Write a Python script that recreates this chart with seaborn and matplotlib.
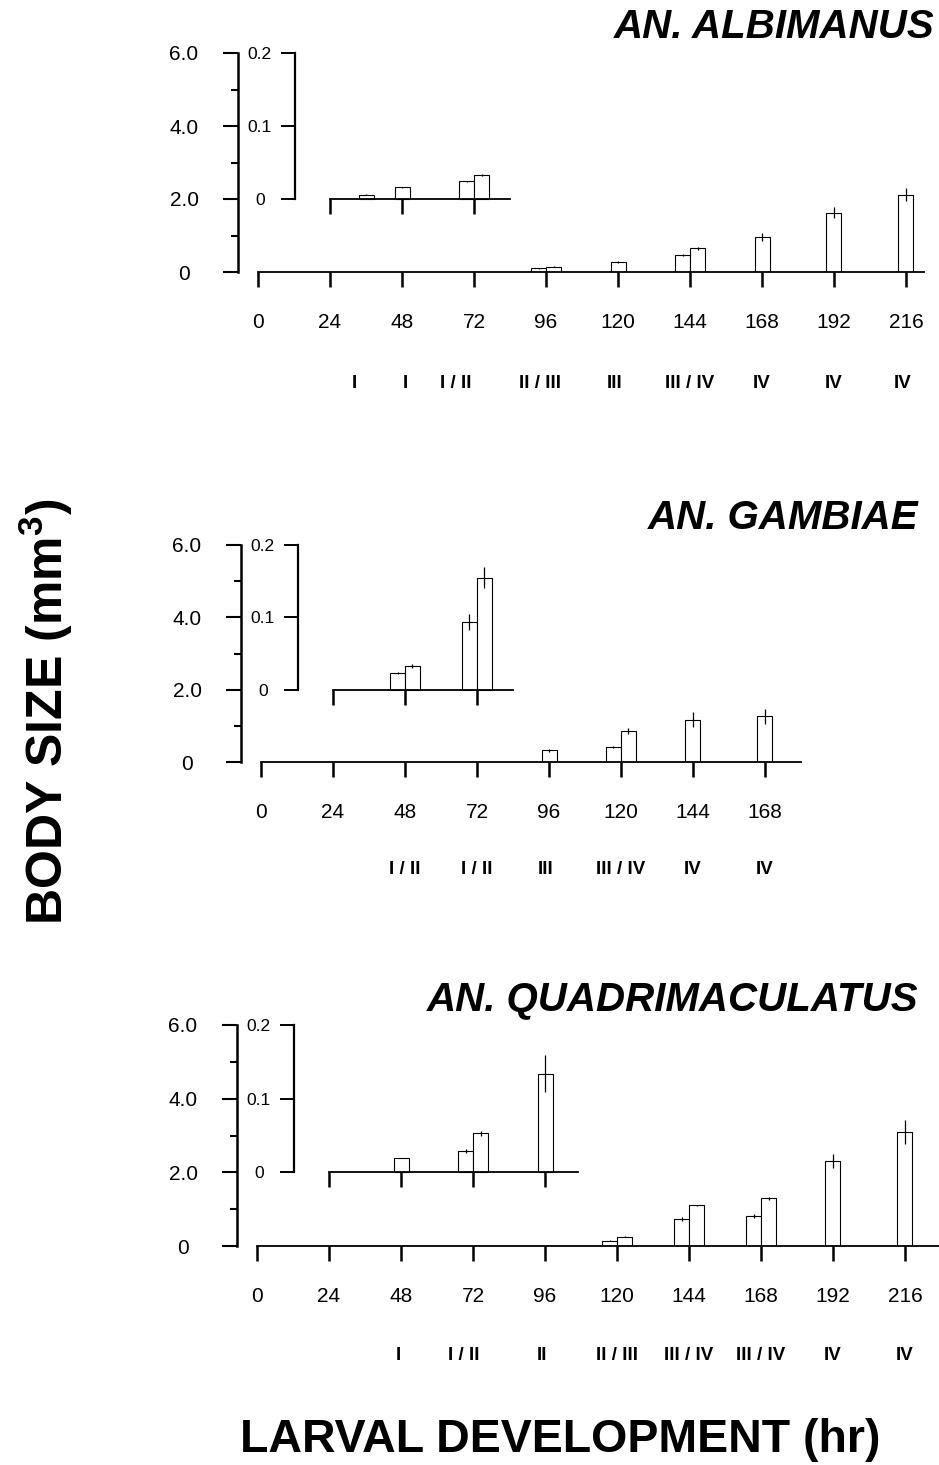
import matplotlib
matplotlib.use("Agg")
import matplotlib.pyplot as plt
import seaborn as sns
import numpy as np
import pandas as pd

sns.set_theme(style="white")
plt.rcParams["font.family"] = ["Liberation Sans", "DejaVu Sans"]
plt.rcParams["mathtext.fontset"] = "custom"
plt.rcParams["mathtext.rm"] = "Liberation Sans:bold"
plt.rcParams["mathtext.bf"] = "Liberation Sans:bold"

# --- data (body size, mm3) ---
# side: L / R = two bars of a mixed-instar sample, S = single bar
alb_time = [36, 48, 72, 72, 96, 96, 120, 144, 144, 168, 192, 216]
alb_side = ["S", "S", "L", "R", "L", "R", "S", "L", "R", "S", "S", "S"]
alb_size = [0.006, 0.016, 0.024, 0.033, 0.10, 0.15, 0.27, 0.47, 0.65, 0.96, 1.62, 2.12]
alb_err = [0.0005, 0.001, 0.001, 0.0015, 0.01, 0.01, 0.03, 0.03, 0.04, 0.10, 0.15, 0.17]
alb_stage = ["I", "I", "I / II", "II / III", "III", "III / IV", "IV", "IV", "IV"]
alb_stage_time = [36, 48, 72, 96, 120, 144, 168, 192, 216]

gam_time = [48, 48, 72, 72, 96, 120, 120, 144, 168]
gam_side = ["L", "R", "L", "R", "S", "L", "R", "S", "S"]
gam_size = [0.023, 0.033, 0.094, 0.155, 0.33, 0.42, 0.86, 1.17, 1.26]
gam_err = [0.002, 0.003, 0.011, 0.015, 0.04, 0.03, 0.09, 0.20, 0.20]
gam_stage = ["I / II", "I / II", "III", "III / IV", "IV", "IV"]
gam_stage_time = [48, 72, 96, 120, 144, 168]

qua_time = [48, 72, 72, 96, 120, 120, 144, 144, 168, 168, 192, 216]
qua_side = ["S", "L", "R", "S", "L", "R", "L", "R", "L", "R", "S", "S"]
qua_size = [0.020, 0.029, 0.053, 0.134, 0.14, 0.25, 0.74, 1.10, 0.82, 1.30, 2.31, 3.10]
qua_err = [0.0, 0.003, 0.003, 0.025, 0.01, 0.01, 0.05, 0.02, 0.05, 0.04, 0.18, 0.33]
qua_stage = ["I", "I / II", "II", "II / III", "III / IV", "III / IV", "IV", "IV"]
qua_stage_time = [48, 72, 96, 120, 144, 168, 192, 216]

# --- layout (pixels of the 939x1465 figure) ---
W, H = 939, 1465
shift = {"L": -2.5, "S": 0.0, "R": 2.5}

panels = [
    dict(title="AN. ALBIMANUS", time=alb_time, side=alb_side, size=alb_size, err=alb_err,
         stage=alb_stage, stage_time=alb_stage_time, stage_nudge=[-4, 1, -6, -2, -1, 0, 0, 0, -1],
         inset_end=72, tick_end=216, axis_end=222, inset_axis_end=84,
         x0=258, y6=53, y0=272, title_xy=(935, 27), stage_y=383),
    dict(title="AN. GAMBIAE", time=gam_time, side=gam_side, size=gam_size, err=gam_err,
         stage=gam_stage, stage_time=gam_stage_time, stage_nudge=[0, 0, -1, 0, 0, 0],
         inset_end=72, tick_end=168, axis_end=180, inset_axis_end=84,
         x0=261, y6=545, y0=762, title_xy=(918, 518), stage_y=870),
    dict(title="AN. QUADRIMACULATUS", time=qua_time, side=qua_side, size=qua_size, err=qua_err,
         stage=qua_stage, stage_time=qua_stage_time, stage_nudge=[-1, -3, -1, 0, 0, 0, 0, 0],
         inset_end=96, tick_end=216, axis_end=230, inset_axis_end=107,
         x0=257, y6=1025, y0=1246, title_xy=(918, 1000), stage_y=1355),
]

fig = plt.figure(figsize=(W / 100, H / 100), dpi=100)
fig.patch.set_facecolor("white")

for p in panels:
    df = pd.DataFrame({"time": p["time"], "side": p["side"], "size": p["size"], "err": p["err"]})
    df["pos"] = df["time"] + df["side"].map(shift)

    rect = [(p["x0"] - 30) / W, 1 - p["y0"] / H, 711 / W, (p["y0"] - p["y6"]) / H]
    ax = fig.add_axes(rect)
    axi = fig.add_axes(rect)
    axi.patch.set_alpha(0)

    late = df[df["time"] > p["inset_end"]]
    early = df[df["time"] <= p["inset_end"]]
    for a, d in ((ax, late), (axi, early)):
        sns.barplot(data=d, x="pos", y="size", native_scale=True, orient="x", width=1.0,
                    color="white", saturation=1, edgecolor="black", linewidth=0.8,
                    errorbar=None, ax=a)
        a.errorbar(d["pos"], d["size"], yerr=d["err"], fmt="none", ecolor="black",
                   elinewidth=0.9, capsize=0)
        a.set_xlim(-10, 227)
        a.set_xlabel("")
        a.set_ylabel("")
        a.spines["top"].set_visible(False)
        a.spines["right"].set_visible(False)
        for s in ("left", "bottom"):
            a.spines[s].set_color("black")

    # main axis 0 - 6 mm3
    ax.set_ylim(0, 6)
    ax.spines["left"].set_position(("data", -6.7))
    ax.spines["left"].set_bounds(0, 6)
    ax.spines["left"].set_linewidth(1.8)
    ax.spines["bottom"].set_bounds(0, p["axis_end"])
    ax.spines["bottom"].set_linewidth(1.3)
    ax.set_yticks([0, 2, 4, 6], labels=["0", "2.0", "4.0", "6.0"])
    ax.set_yticks([1, 3, 5], minor=True)
    ax.tick_params(axis="y", which="major", direction="out", length=10.8, width=1.5,
                   pad=28, labelsize=15, colors="black", left=True)
    ax.tick_params(axis="y", which="minor", direction="out", length=5, width=1.5,
                   colors="black", left=True)
    for t in ax.get_yticklabels():
        t.set_horizontalalignment("center")
    xt = list(range(0, p["tick_end"] + 1, 24))
    ax.set_xticks(xt, labels=[str(v) for v in xt])
    ax.tick_params(axis="x", which="major", direction="out", length=10.8, width=1.8,
                   pad=19, labelsize=15, colors="black", bottom=True)

    # inset axis 0 - 0.2 mm3 (spans main 2.0 - 6.0)
    axi.set_ylim(-0.1, 0.2)
    axi.spines["left"].set_position(("data", 12.2))
    axi.spines["left"].set_bounds(0, 0.2)
    axi.spines["left"].set_linewidth(1.6)
    axi.spines["bottom"].set_position(("data", 0))
    axi.spines["bottom"].set_bounds(24, p["inset_axis_end"])
    axi.spines["bottom"].set_linewidth(1.3)
    axi.set_yticks([0, 0.1, 0.2], labels=["0", "0.1", "0.2"])
    axi.tick_params(axis="y", direction="out", length=10, width=1.4, pad=15,
                    labelsize=12.5, colors="black", left=True)
    for t in axi.get_yticklabels():
        t.set_horizontalalignment("center")
    axi.set_xticks(list(range(24, p["inset_end"] + 1, 24)))
    axi.tick_params(axis="x", direction="out", length=10.8, width=1.8,
                    labelbottom=False, bottom=True, colors="black")

    # instar labels under the hours
    frac = -(p["stage_y"] - p["y0"]) / (p["y0"] - p["y6"])
    for lab, t, n in zip(p["stage"], p["stage_time"], p["stage_nudge"]):
        ax.text(t + n, frac, lab, transform=ax.get_xaxis_transform(), ha="center", va="center",
                fontsize=13.5, fontweight="bold", color="black",
                family=["Liberation Sans Narrow", "Liberation Sans"])

    fig.text(p["title_xy"][0] / W, 1 - p["title_xy"][1] / H, p["title"], ha="right", va="center",
             fontsize=29, fontweight="bold", fontstyle="italic", color="black")

fig.text(46 / W, 1 - 712 / H, "BODY SIZE (mm$^{3}$)", rotation=90, ha="center", va="center",
         fontsize=36, fontweight="bold", color="black")
fig.text(560 / W, 1 - 1440 / H, "LARVAL DEVELOPMENT (hr)", ha="center", va="center",
         fontsize=33.5, fontweight="bold", color="black")

fig.savefig("out.png", dpi=100, facecolor="white")
